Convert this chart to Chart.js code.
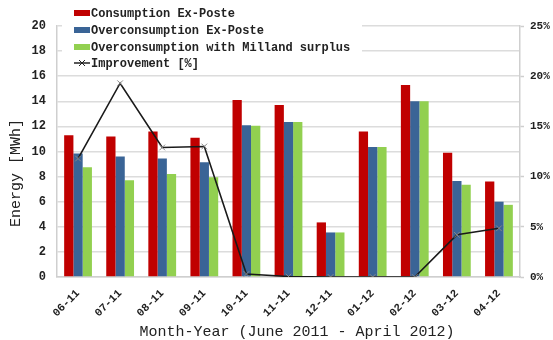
<!DOCTYPE html>
<html>
<head>
<meta charset="utf-8">
<script src="https://cdn.jsdelivr.net/npm/chart.js@4/dist/chart.umd.min.js"></script>
<style>
  html, body { margin: 0; padding: 0; background: #fff; }
  #wrap { width: 553px; height: 340px; position: relative; }
</style>
</head>
<body>
<div id="wrap"><canvas id="c" width="553" height="340"></canvas></div>
<script>
// Monthly energy figures (MWh) and improvement (%)
const months = ['06-11', '07-11', '08-11', '09-11', '10-11', '11-11', '12-11', '01-12', '02-12', '03-12', '04-12'];
const consumptionExPoste = [11.3, 11.2, 11.6, 11.1, 14.1, 13.7, 4.35, 11.6, 15.3, 9.9, 7.6];
const overconsumptionExPoste = [9.85, 9.6, 9.45, 9.15, 12.1, 12.35, 3.55, 10.35, 14.0, 7.65, 6.0];
const overconsumptionMilland = [8.75, 7.7, 8.2, 7.95, 12.05, 12.35, 3.55, 10.35, 14.0, 7.35, 5.75];
const improvementPct = [11.8, 19.3, 12.9, 13.0, 0.3, 0.05, 0, 0, 0, 4.2, 4.85];
const leftTicks = [0, 2, 4, 6, 8, 10, 12, 14, 16, 18, 20];
const rightTicks = [0, 5, 10, 15, 20, 25];
const yTitle = 'Energy [MWh]';
const xTitle = 'Month-Year (June 2011 - April 2012)';

const MONO = '"Liberation Mono", "DejaVu Sans Mono", monospace';
const RED = '#C00000', BLUE = '#3A6496', GREEN = '#92D050';

// Legend box over the upper-left part of the plot, plus the two axis titles
const overlayLegend = {
  id: 'overlayLegend',
  afterDraw(chart) {
    const ctx = chart.ctx;
    const a = chart.chartArea;
    ctx.save();
    ctx.fillStyle = '#fff';
    ctx.fillRect(a.left + 5, 0, 300, 68);
    ctx.font = 'bold 12px ' + MONO;
    ctx.textBaseline = 'middle';
    const x0 = 74, x1 = 90;
    const rows = [13, 30, 47, 63];
    const ds = chart.data.datasets;
    const items = [ds[1], ds[2], ds[3], ds[0]];
    items.forEach((d, i) => {
      const y = rows[i];
      if (d.type === 'line') {
        ctx.strokeStyle = '#222';
        ctx.lineWidth = 1.5;
        ctx.beginPath(); ctx.moveTo(x0, y); ctx.lineTo(x1, y); ctx.stroke();
        ctx.lineWidth = 1;
        const m = (x0 + x1) / 2;
        ctx.beginPath();
        ctx.moveTo(m - 3, y - 3); ctx.lineTo(m + 3, y + 3);
        ctx.moveTo(m + 3, y - 3); ctx.lineTo(m - 3, y + 3);
        ctx.stroke();
      } else {
        ctx.fillStyle = d.backgroundColor;
        ctx.fillRect(x0, y - 3, x1 - x0, 6);
      }
      ctx.fillStyle = '#222';
      ctx.fillText(d.label, x1 + 1, y + 1);
    });

    // axis titles
    ctx.font = '15px ' + MONO;
    ctx.fillStyle = '#222';
    ctx.textAlign = 'center';
    ctx.textBaseline = 'middle';
    ctx.fillText(xTitle, 297, 332);
    ctx.translate(16, 173);
    ctx.rotate(-Math.PI / 2);
    ctx.fillText(yTitle, 0, 0);
    ctx.restore();
  }
};

new Chart(document.getElementById('c'), {
  data: {
    labels: months,
    datasets: [
      {
        type: 'line', label: 'Improvement [%]', data: improvementPct, yAxisID: 'yR',
        borderColor: '#1a1a1a', borderWidth: 1.6, pointStyle: 'crossRot', pointRadius: 4,
        pointBorderColor: '#888', pointBorderWidth: 1, tension: 0, order: 0
      },
      { type: 'bar', label: 'Consumption Ex-Poste', data: consumptionExPoste, backgroundColor: RED, yAxisID: 'y', order: 1 },
      { type: 'bar', label: 'Overconsumption Ex-Poste', data: overconsumptionExPoste, backgroundColor: BLUE, yAxisID: 'y', order: 1 },
      { type: 'bar', label: 'Overconsumption with Milland surplus', data: overconsumptionMilland, backgroundColor: GREEN, yAxisID: 'y', order: 1 }
    ]
  },
  options: {
    responsive: false,
    animation: false,
    layout: { padding: { top: 26, left: 0, right: 0, bottom: 0 } },
    datasets: { bar: { categoryPercentage: 0.66, barPercentage: 1.0 } },
    plugins: { legend: { display: false }, tooltip: { enabled: false } },
    scales: {
      x: {
        afterFit(s) { s.height = 63; },
        grid: { display: false },
        border: { color: '#cfcfcf', width: 1.5 },
        ticks: {
          maxRotation: 45, minRotation: 45, padding: 2,
          color: '#222', font: { family: MONO, size: 11, weight: 'bold' }
        }
      },
      y: {
        position: 'left', min: 0, max: 20,
        afterFit(s) { s.width = 57; },
        afterBuildTicks(s) { s.ticks = leftTicks.map(v => ({ value: v })); },
        grid: { color: '#dcdcdc', lineWidth: 1.5, drawTicks: false },
        border: { color: '#cfcfcf', width: 1.5 },
        ticks: { padding: 11, color: '#222', font: { family: MONO, size: 12, weight: 'bold' } }
      },
      yR: {
        position: 'right', min: 0, max: 25,
        afterFit(s) { s.width = 33; },
        afterBuildTicks(s) { s.ticks = rightTicks.map(v => ({ value: v })); },
        grid: { display: true, drawOnChartArea: false, drawTicks: true, tickLength: 4, tickColor: '#cfcfcf', tickWidth: 1.5 },
        border: { color: '#cfcfcf', width: 1.5 },
        ticks: {
          padding: 6, color: '#222', font: { family: MONO, size: 11, weight: 'bold' },
          callback: v => v + '%'
        }
      }
    }
  },
  plugins: [overlayLegend]
});
</script>
</body>
</html>
